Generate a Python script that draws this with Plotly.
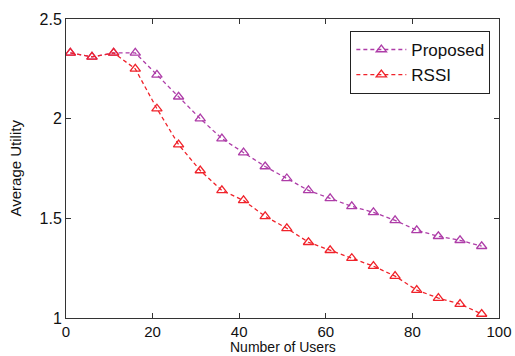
import plotly.graph_objects as go

users = [1, 6, 11, 16, 21, 26, 31, 36, 41, 46, 51, 56, 61, 66, 71, 76, 81, 86, 91, 96]
proposed = [2.33, 2.31, 2.33, 2.33, 2.22, 2.11, 2.00, 1.90, 1.83, 1.76, 1.70, 1.64, 1.60, 1.56, 1.53, 1.49, 1.44, 1.41, 1.39, 1.36]
rssi = [2.33, 2.31, 2.33, 2.25, 2.05, 1.87, 1.74, 1.64, 1.59, 1.51, 1.45, 1.38, 1.34, 1.30, 1.26, 1.21, 1.14, 1.10, 1.07, 1.02]
x_ticks = [0, 20, 40, 60, 80, 100]
y_ticks = [1, 1.5, 2, 2.5]
y_tick_labels = ["1", "1.5", "2", "2.5"]

purple = "#AE3DA8"
red = "#F0232B"
FONT = "Liberation Sans, Arial, sans-serif"

fig = go.Figure()
fig.add_trace(go.Scatter(
    x=users, y=proposed, name="Proposed", mode="lines+markers",
    line=dict(color=purple, width=1.3, dash="4px,3px"),
    marker=dict(symbol="triangle-up-open", size=9, color=purple, line=dict(width=1.3, color=purple)),
))
fig.add_trace(go.Scatter(
    x=users, y=rssi, name="RSSI", mode="lines+markers",
    line=dict(color=red, width=1.3, dash="4px,3px"),
    marker=dict(symbol="triangle-up-open", size=9, color=red, line=dict(width=1.3, color=red)),
))

axis_common = dict(
    showline=True, linecolor="#333333", linewidth=1, mirror="ticks",
    ticks="inside", ticklen=5, tickcolor="#333333", showgrid=False, zeroline=False,
    automargin=False,
)

fig.update_layout(
    width=515, height=356,
    margin=dict(l=66, r=16, t=19, b=38),
    paper_bgcolor="white", plot_bgcolor="white",
    font=dict(family=FONT, color="#111111"),
    xaxis=dict(range=[0, 100], tickvals=x_ticks, ticklabelstandoff=0,
               tickfont=dict(family=FONT, size=15, color="#111111"), **axis_common),
    yaxis=dict(range=[1, 2.5], tickvals=y_ticks, ticktext=y_tick_labels,
               tickfont=dict(family=FONT, size=16, color="#111111"), **axis_common),
    legend=dict(
        x=0.98, y=0.96, xanchor="right", yanchor="top",
        bordercolor="#222222", borderwidth=1, bgcolor="white",
        font=dict(size=17), tracegroupgap=0, itemwidth=50,
    ),
    showlegend=True,
    annotations=[
        dict(text="Number of Users", x=0.5, y=0, xref="paper", yref="paper",
             xanchor="center", yanchor="bottom", yshift=-38, showarrow=False,
             borderpad=0,
             font=dict(family=FONT, size=14, color="#111111")),
        dict(text="Average Utility", x=0, y=0.5, xref="paper", yref="paper",
             xanchor="center", yanchor="middle", xshift=-51, textangle=-90, showarrow=False,
             font=dict(family=FONT, size=15, color="#111111")),
    ],
)

fig.write_html("out.html", config={"displayModeBar": False},
               post_script="document.body.style.margin='0';")
